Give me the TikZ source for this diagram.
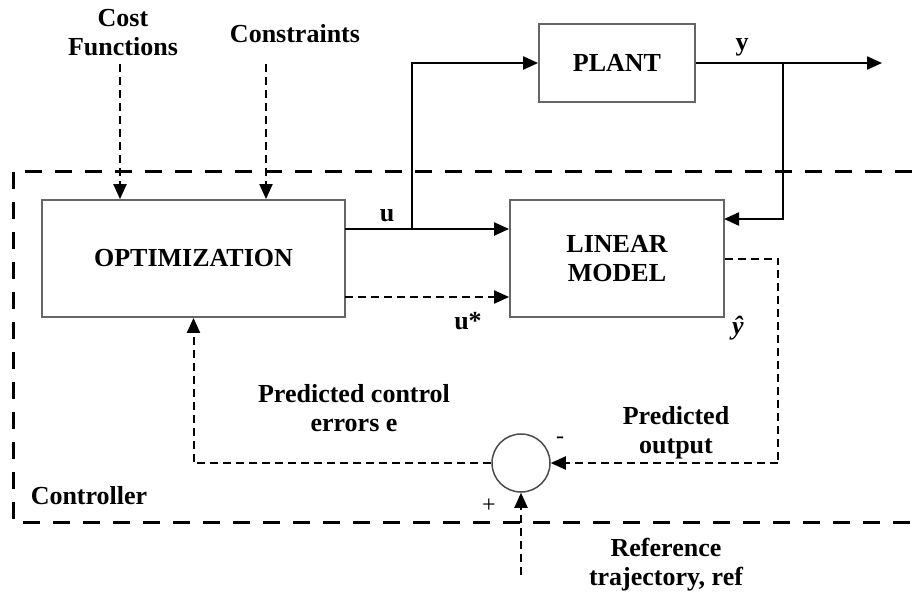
\documentclass[tikz,border=0pt]{standalone}
\usepackage{fontspec}
\setmainfont{Liberation Serif}
\usetikzlibrary{arrows.meta}
\begin{document}
\begin{tikzpicture}[x=1pt,y=-1pt,
  every node/.style={font=\fontsize{26}{29}\selectfont\bfseries, inner sep=0pt},
  blockbox/.style={draw=black!60, line width=1.8pt, rectangle},
  sig/.style={line width=2.2pt, -{Triangle[length=15pt,width=13pt]}},
  dsig/.style={line width=2pt, dash pattern=on 8pt off 5pt, -{Triangle[length=15pt,width=13pt]}},
  dline/.style={line width=2pt, dash pattern=on 8pt off 5pt},
  ctrlbox/.style={line width=3pt, dash pattern=on 17pt off 13pt},
  lbl/.style={align=center}]
\useasboundingbox (0,0) rectangle (912,595);

% controller boundary
\draw[ctrlbox] (912,171) -- (13,171) -- (13,522) -- (912,522);

% blocks
\node[blockbox, minimum width=303pt, minimum height=117pt] (opt) at (193.5,258.5) {OPTIMIZATION};
\node[blockbox, minimum width=214pt, minimum height=117pt, align=center] (lin) at (617,258.5) {LINEAR\\MODEL};
\node[blockbox, minimum width=156pt, minimum height=78pt] (plant) at (617,63) {PLANT};
\node[draw=black!70, line width=1.5pt, circle, minimum size=58pt] (sum) at (521,463) {};

% coordinates
\coordinate (cf) at (120,64);
\coordinate (cs) at (266,64);
\coordinate (ua) at (345,229);
\coordinate (ub) at (412,229);
\coordinate (usa) at (345,297);
\coordinate (yb) at (783,63);
\coordinate (yout) at (882,63);
\coordinate (lyin) at (724,219);
\coordinate (c1) at (778,258.5);
\coordinate (c2) at (778,463);
\coordinate (ref) at (521,575);

% connectors
\draw[dsig] (cf) -- (cf |- opt.north);
\draw[dsig] (cs) -- (cs |- opt.north);
\draw[sig] (ua) -- (ua -| lin.west);
\draw[sig] (ub) |- (plant.west);
\draw[sig] (plant.east) -- (yout);
\draw[sig] (yb) |- (lyin);
\draw[dsig] (usa) -- (usa -| lin.west);
\draw[dline] (lin.east) -- (c1) -- (c2);
\draw[dsig] (c2) -- (sum.east);
\draw[dsig] (sum.west) -| (opt.south);
\draw[dsig] (ref) -- (sum.south);

% labels
\node[lbl] (tcost) at (123,33) {Cost\\Functions};
\node (tcons) at (295,34) {Constraints};
\node (ty) at (742,47) {y};
\node (tu) at (387,216) {u};
\node (tus) at (468,321) {u*};
\node (tyhat) at (738,328) {\itshape ŷ};
\node[lbl] (tpce) at (354,408) {Predicted control\\errors e};
\node[lbl] (tpo) at (676,433) {Predicted\\output};
\node (tctrl) at (89,496) {Controller};
\node[lbl] (tref) at (666,565) {Reference\\trajectory, ref};
\node[font=\fontsize{24}{28}\selectfont] (tminus) at (560,440) {-};
\node[font=\fontsize{24}{28}\selectfont] (tplus) at (489,506) {+};
\end{tikzpicture}
\end{document}
